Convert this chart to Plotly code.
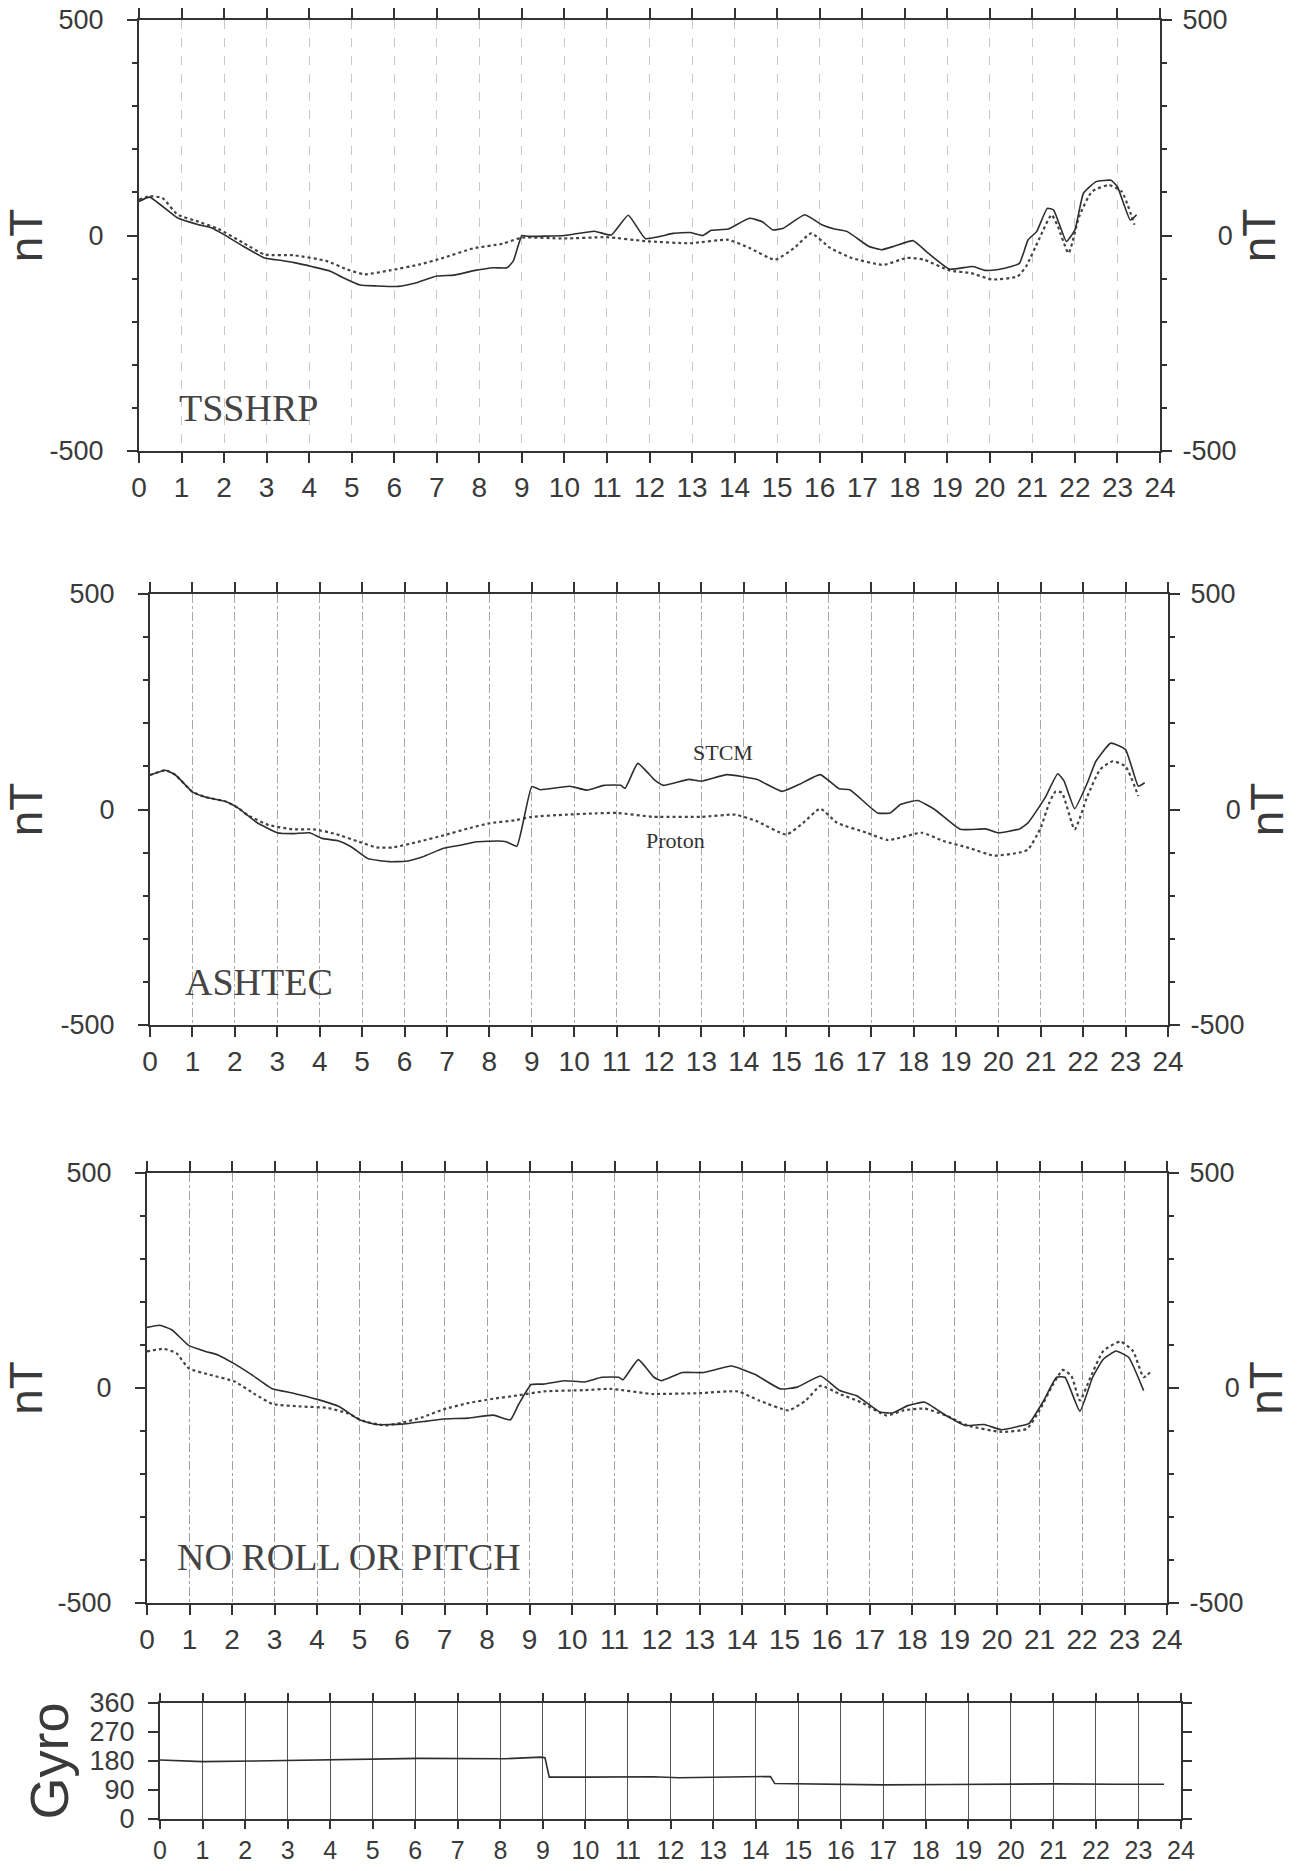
import plotly.graph_objects as go

# ---------------- DATA ----------------
# Panel 1: TSSHRP
p1_stcm_t = [0.0, 0.25, 0.9, 1.4, 1.7, 2.0, 2.45, 2.95, 3.35, 3.65, 4.1, 4.5, 4.8, 5.2, 5.6, 6.1, 6.5, 7.0,
             7.4, 7.9, 8.35, 8.65, 8.8, 9.0, 9.15, 10.0, 10.7, 11.1, 11.5, 11.9, 12.25, 12.55, 12.95, 13.25,
             13.45, 13.85, 14.35, 14.65, 14.9, 15.15, 15.65, 16.05, 16.35, 16.65, 17.15, 17.45, 17.75, 18.2,
             18.55, 19.05, 19.6, 19.9, 20.2, 20.5, 20.7, 20.9, 21.1, 21.35, 21.5, 21.8, 22.0, 22.2, 22.5,
             22.85, 23.0, 23.3, 23.45]
p1_stcm_v = [79, 89, 41, 25, 18, 2, -25, -52, -58, -63, -73, -83, -98, -115, -117, -118, -110, -94,
             -92, -81, -75, -75, -59, 0, -2, 0, 10, 1, 47, -7, -2, 5, 7, 0,
             12, 15, 40, 32, 13, 17, 48, 25, 15, 9, -25, -33, -25, -12,
             -41, -78, -72, -81, -79, -72, -64, -10, 9, 63, 59, -14, 13, 98, 125,
             128, 113, 36, 48]
p1_prot_t = [0.0, 0.25, 0.55, 0.9, 1.4, 1.85, 2.45, 2.95, 3.65, 4.4, 4.9, 5.3, 5.9, 6.6, 7.15, 7.85, 8.55,
             9.0, 10.0, 11.0, 11.9, 12.95, 13.85, 14.35, 14.95, 15.4, 15.8, 16.25, 16.75, 17.5, 18.05,
             18.45, 19.05, 19.55, 20.05, 20.65, 20.85, 21.15, 21.45, 21.6, 21.85, 22.1, 22.4, 22.8, 23.1, 23.4]
p1_prot_v = [83, 91, 87, 49, 32, 16, -17, -44, -46, -59, -79, -90, -81, -67, -52, -30, -19,
             -5, -7, -4, -13, -18, -10, -29, -56, -29, 5, -29, -52, -68, -52,
             -56, -81, -87, -102, -95, -72, -10, 48, 21, -41, 44, 102, 117, 102, 25]

# Panel 2: ASHTEC
p2_stcm_t = [0.0, 0.36, 0.6, 1.0, 1.3, 1.8, 2.1, 2.5, 3.0, 3.37, 3.76, 4.06, 4.45, 4.75, 5.14, 5.64, 6.03,
             6.42, 6.92, 7.31, 7.7, 8.2, 8.4, 8.65, 9.0, 9.2, 9.9, 10.3, 10.7, 11.1, 11.2, 11.5, 11.9,
             12.1, 12.7, 13.0, 13.6, 14.3, 14.9, 15.3, 15.8, 16.25, 16.5, 17.15, 17.45, 17.7, 18.1,
             18.5, 19.1, 19.7, 20.0, 20.5, 20.7, 21.1, 21.4, 21.55, 21.8, 22.1, 22.3, 22.65, 23.0,
             23.3, 23.45]
p2_stcm_v = [80, 91, 80, 41, 29, 18, 2, -29, -54, -56, -54, -67, -73, -87, -114, -121, -120,
             -110, -90, -83, -75, -73, -75, -85, 53, 46, 54, 45, 56, 56, 49, 107, 68,
             56, 70, 66, 81, 70, 42, 58, 81, 48, 46, -8, -8, 12, 21,
             0, -46, -45, -54, -45, -31, 27, 83, 66, 2, 62, 112, 154, 139,
             54, 62]
p2_prot_t = [0.0, 0.36, 0.6, 1.0, 1.3, 1.8, 2.1, 2.3, 2.8, 3.37, 3.86, 4.35, 4.93, 5.34, 5.73, 6.32,
             6.92, 7.5, 8.0, 8.6, 9.0, 9.8, 10.5, 11.0, 11.85, 12.0, 13.0, 13.8, 14.3, 15.0, 15.4,
             15.8, 16.2, 16.9, 17.4, 18.2, 18.7, 19.3, 19.9, 20.5, 20.7, 21.0, 21.2, 21.35, 21.5,
             21.8, 22.1, 22.4, 22.7, 23.0, 23.3]
p2_prot_v = [80, 91, 80, 41, 29, 18, 2, -13, -36, -46, -46, -56, -75, -88, -88, -75,
             -60, -44, -32, -25, -17, -12, -9, -8, -17, -17, -17, -12, -27, -58, -31,
             2, -31, -54, -71, -54, -73, -89, -107, -100, -93, -42, 15, 42, 39,
             -46, 31, 93, 112, 100, 31]

# Panel 3: NO ROLL OR PITCH
p3_stcm_t = [0.0, 0.3, 0.59, 0.98, 1.38, 1.67, 2.06, 2.46, 2.95, 3.44, 4.03, 4.52, 5.0, 5.4, 5.99, 6.58,
             6.97, 7.56, 8.15, 8.55, 8.74, 9.04, 9.33, 9.82, 10.3, 10.7, 11.1, 11.2, 11.56, 11.93,
             12.1, 12.6, 13.1, 13.75, 14.3, 14.9, 15.3, 15.85, 16.3, 16.7, 17.25, 17.55, 17.9, 18.3,
             18.8, 19.25, 19.7, 20.1, 20.6, 20.75, 21.1, 21.4, 21.6, 21.95, 22.25, 22.5, 22.8, 23.1,
             23.45]
p3_stcm_v = [141, 146, 135, 99, 85, 77, 56, 31, -2, -12, -27, -43, -74, -85, -84, -77,
             -72, -70, -63, -74, -39, 8, 9, 17, 14, 25, 25, 19, 66, 25,
             17, 36, 36, 51, 32, -2, 2, 28, -6, -18, -56, -58, -41, -33,
             -64, -87, -85, -97, -87, -83, -29, 25, 25, -54, 25, 67, 86, 71,
             -6]
p3_prot_t = [0.0, 0.39, 0.69, 0.98, 1.47, 2.06, 2.55, 2.95, 3.63, 4.22, 4.7, 5.1, 5.6, 5.99, 6.48, 6.97,
             7.56, 8.15, 8.74, 9.33, 10.3, 10.9, 11.88, 12.0, 13.0, 13.9, 14.4, 15.1, 15.5, 15.85,
             16.3, 16.8, 17.4, 17.8, 18.3, 18.8, 19.3, 20.1, 20.7, 21.0, 21.3, 21.55, 21.75, 21.95,
             22.2, 22.5, 22.9, 23.2, 23.45, 23.6]
p3_prot_v = [85, 91, 81, 46, 31, 15, -15, -37, -43, -46, -58, -77, -87, -81, -68, -50,
             -35, -25, -17, -8, -5, -2, -14, -14, -12, -8, -29, -52, -29, 5,
             -14, -33, -64, -52, -48, -64, -87, -102, -95, -52, 5, 42, 28, -29,
             25, 86, 108, 86, 25, 36]

# Gyro heading
gyro_t = [0.0, 1.0, 2.2, 4.1, 6.1, 8.1, 8.95, 9.05, 9.15, 10.0, 11.6, 12.2, 13.0, 14.35, 14.45,
          15.5, 17.0, 18.5, 19.5, 21.0, 22.5, 23.6]
gyro_v = [183, 178, 180, 185, 188, 187, 192, 190, 130, 130, 131, 128, 129, 132, 110,
          108, 106, 107, 108, 109, 108, 108]

hour_ticks = list(range(0, 25))
panel_labels = ["TSSHRP", "ASHTEC", "NO ROLL OR PITCH"]
nt_ticks = [-500, 0, 500]
nt_ticktext_left = ["-500", "0", "500"]
nt_ticktext_right = ["-500", "\u2007\u2007\u20090", "500"]
gyro_ticks = [0, 90, 180, 270, 360]

# ---------------- LAYOUT (pixel geometry of the page) ----------------
W, H = 1314, 1871
# (x0px, x1px, ytop_px, ybottom_px)
boxes = [(139, 1160, 20, 451), (150, 1168, 594, 1025), (147, 1167, 1173, 1603), (160, 1181, 1703, 1819)]

def xd(a, b):
    return [a / W, b / W]

def yd(top, bot):
    return [1 - bot / H, 1 - top / H]

INK = "#333333"
SANS = "Liberation Sans, Arial, sans-serif"
TXT = "#3a3a3a"
TICKF = dict(family=SANS, size=27, color=TXT)
XTICKF = dict(family=SANS, size=28, color=TXT)
GXTICKF = dict(family=SANS, size=25, color=TXT)
TITLEF = dict(family=SANS, size=46, color=TXT)
SERIF = "Liberation Serif, Times New Roman, serif"
grid_colors = ["#c8c8c8", "#a8a8a8", "#a0a0a0", "#555555"]
grid_dash = ["dash", "dashdot", "dashdot", "solid"]

fig = go.Figure()
series = [(p1_stcm_t, p1_stcm_v, p1_prot_t, p1_prot_v),
          (p2_stcm_t, p2_stcm_v, p2_prot_t, p2_prot_v),
          (p3_stcm_t, p3_stcm_v, p3_prot_t, p3_prot_v)]

layout = dict(width=W, height=H, autosize=False,
              margin=dict(l=0, r=0, t=0, b=0, pad=0, autoexpand=False),
              paper_bgcolor="white", plot_bgcolor="white", showlegend=False)

for i, (x0, x1, yt, yb) in enumerate(boxes):
    n = i + 1
    xa = "xaxis" if n == 1 else f"xaxis{n}"
    ya = "yaxis" if n == 1 else f"yaxis{n}"
    yr = f"yaxis{n + 4}"
    xref = "x" if n == 1 else f"x{n}"
    yref = "y" if n == 1 else f"y{n}"
    layout[xa] = dict(domain=xd(x0, x1), anchor=yref, range=[0, 24], tickmode="array",
                      tickvals=hour_ticks, ticktext=[str(h) for h in hour_ticks],
                      ticks="outside", ticklen=10 if n < 4 else 8, tickwidth=2, tickcolor=INK,
                      showline=True, linewidth=2, linecolor=INK, mirror="ticks",
                      showgrid=True, gridcolor=grid_colors[i], griddash=grid_dash[i],
                      gridwidth=1, zeroline=False, tickfont=XTICKF if n < 4 else GXTICKF,
                      fixedrange=True, automargin=False)
    if n < 4:
        layout[ya] = dict(domain=yd(yt, yb), anchor=xref, range=[-500, 500], tickmode="array",
                          tickvals=nt_ticks, ticktext=nt_ticktext_left,
                          ticks="outside", ticklen=10, tickwidth=2, tickcolor=INK,
                          minor=dict(tickmode="linear", tick0=0, dtick=100, ticks="outside",
                                     ticklen=5, tickwidth=1.5, tickcolor=INK, showgrid=False),
                          showline=True, linewidth=2, linecolor=INK, showgrid=False,
                          zeroline=False, tickfont=TICKF, ticklabelstandoff=18,
                          automargin=False, fixedrange=True,
                          title=dict(text="nT", font=TITLEF, standoff=8))
        layout[yr] = dict(overlaying=yref, anchor=xref, side="right", range=[-500, 500],
                          tickmode="array", tickvals=nt_ticks, ticktext=nt_ticktext_right,
                          ticks="outside", ticklen=10, tickwidth=2, tickcolor=INK,
                          minor=dict(tickmode="linear", tick0=0, dtick=100, ticks="outside",
                                     ticklen=5, tickwidth=1.5, tickcolor=INK, showgrid=False),
                          showline=True, linewidth=2, linecolor=INK, showgrid=False,
                          zeroline=False, tickfont=TICKF, ticklabelstandoff=5,
                          automargin=False, fixedrange=True,
                          title=dict(text="nT", font=TITLEF, standoff=6))
    else:
        layout[ya] = dict(domain=yd(yt, yb), anchor=xref, range=[0, 360], tickmode="array",
                          tickvals=gyro_ticks, ticktext=[str(g) for g in gyro_ticks],
                          ticks="outside", ticklen=10, tickwidth=2, tickcolor=INK,
                          showline=True, linewidth=2, linecolor=INK, showgrid=False,
                          zeroline=False, tickfont=dict(family=SANS, size=27, color=TXT),
                          ticklabelstandoff=8, automargin=False, fixedrange=True,
                          title=dict(text="Gyro", font=dict(family=SANS, size=54, color=TXT),
                                     standoff=4))
        layout[yr] = dict(overlaying=yref, anchor=xref, side="right", range=[0, 360],
                          tickmode="array", tickvals=gyro_ticks, showticklabels=False,
                          ticks="outside", ticklen=9, tickwidth=2, tickcolor=INK,
                          showline=True, linewidth=2, linecolor=INK, showgrid=False,
                          zeroline=False, automargin=False, fixedrange=True)

# traces
for i, (st, sv, pt, pv) in enumerate(series):
    n = i + 1
    xref = "x" if n == 1 else f"x{n}"
    yref = "y" if n == 1 else f"y{n}"
    fig.add_trace(go.Scatter(x=pt, y=pv, mode="lines", xaxis=xref, yaxis=yref, name="Proton",
                             line=dict(color="#444444", width=2.2, dash="dot",
                                       shape="spline", smoothing=0.5)))
    fig.add_trace(go.Scatter(x=st, y=sv, mode="lines", xaxis=xref, yaxis=yref, name="STCM",
                             line=dict(color="#2e2e2e", width=1.6, shape="spline", smoothing=0.4)))
    # same data bound to the right-hand axis (invisible) so that axis gets drawn
    fig.add_trace(go.Scatter(x=st, y=sv, mode="lines", xaxis=xref, yaxis=f"y{n + 4}",
                             line=dict(width=0), opacity=0, hoverinfo="skip", showlegend=False))

fig.add_trace(go.Scatter(x=gyro_t, y=gyro_v, mode="lines", xaxis="x4", yaxis="y4", name="Gyro",
                         line=dict(color="#2e2e2e", width=1.6)))
fig.add_trace(go.Scatter(x=gyro_t, y=gyro_v, mode="lines", xaxis="x4", yaxis="y8",
                         line=dict(width=0), opacity=0, hoverinfo="skip", showlegend=False))

# annotations (panel names and curve labels)
ann = []
label_pos = [(0.89, -401), (0.78, -400), (0.66, -393)]
for i, lab in enumerate(panel_labels):
    n = i + 1
    ann.append(dict(text=lab, x=label_pos[i][0], y=label_pos[i][1],
                    xref="x" if n == 1 else f"x{n}", yref="y" if n == 1 else f"y{n}",
                    xanchor="left", yanchor="middle", showarrow=False,
                    font=dict(family=SERIF, size=38, color="#444444")))
ann.append(dict(text="STCM", x=13.5, y=133, xref="x2", yref="y2", showarrow=False,
                font=dict(family=SERIF, size=22, color="#333333")))
ann.append(dict(text="Proton", x=12.38, y=-71, xref="x2", yref="y2", showarrow=False,
                font=dict(family=SERIF, size=22, color="#333333")))
layout["annotations"] = ann

fig.update_layout(**layout)
fig.write_html("out.html", config={"displayModeBar": False},
               post_script="document.body.style.margin='0';document.body.style.overflow='hidden';")
